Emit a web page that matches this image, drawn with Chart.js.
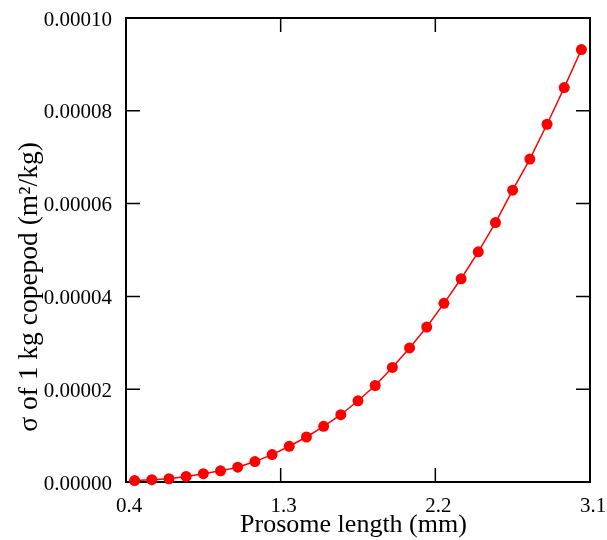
<!DOCTYPE html>
<html>
<head>
<meta charset="utf-8">
<script src="https://cdn.jsdelivr.net/npm/chart.js@4.4.1/dist/chart.umd.min.js"></script>
<style>
  html, body { margin: 0; padding: 0; background: #ffffff; }
  #c { display: block; }
</style>
</head>
<body>
<canvas id="c" width="607" height="540"></canvas>
<script>
// ---- data ----
const prosomeLength = [0.45, 0.55, 0.65, 0.75, 0.85, 0.95, 1.05, 1.15, 1.25, 1.35,
                       1.45, 1.55, 1.65, 1.75, 1.85, 1.95, 2.05, 2.15, 2.25, 2.35,
                       2.45, 2.55, 2.65, 2.75, 2.85, 2.95, 3.05];
const sigmaValues = [0.30e-6, 0.50e-6, 0.70e-6, 1.2e-6, 1.8e-6, 2.4e-6, 3.2e-6, 4.4e-6, 5.9e-6, 7.7e-6,
                     9.7e-6, 12.0e-6, 14.5e-6, 17.5e-6, 20.8e-6, 24.7e-6, 28.9e-6, 33.4e-6, 38.5e-6, 43.8e-6,
                     49.6e-6, 55.9e-6, 62.9e-6, 69.6e-6, 77.1e-6, 85.0e-6, 93.2e-6];
const xTickValues = [0.4, 1.3, 2.2, 3.1];
const yTickValues = [0, 0.00002, 0.00004, 0.00006, 0.00008, 0.0001];
const xTitle = 'Prosome length (mm)';
const yTitle = 'σ of 1 kg copepod (m²/kg)';

const FONT = '"Liberation Serif", "Times New Roman", serif';

const framePlugin = {
  id: 'frame',
  beforeDatasetsDraw(chart) {
    const ctx = chart.ctx;
    const a = chart.chartArea;
    const xs = chart.scales.x, ys = chart.scales.y;
    const tl = 14;
    ctx.save();
    ctx.strokeStyle = '#000';
    ctx.lineWidth = 1.5;
    ctx.beginPath();
    xTickValues.forEach(v => {
      const px = xs.getPixelForValue(v);
      ctx.moveTo(px, a.bottom); ctx.lineTo(px, a.bottom - tl);
      ctx.moveTo(px, a.top); ctx.lineTo(px, a.top + tl);
    });
    yTickValues.forEach(v => {
      const py = ys.getPixelForValue(v);
      ctx.moveTo(a.left, py); ctx.lineTo(a.left + tl, py);
      ctx.moveTo(a.right, py); ctx.lineTo(a.right - tl, py);
    });
    ctx.stroke();
    ctx.lineWidth = 2;
    ctx.strokeRect(a.left, a.top, a.right - a.left, a.bottom - a.top);
    ctx.restore();
  },
  afterDraw(chart) {
    const ctx = chart.ctx;
    const a = chart.chartArea;
    ctx.save();
    ctx.fillStyle = '#000';
    ctx.textAlign = 'center';
    ctx.textBaseline = 'alphabetic';
    // x title
    ctx.font = '26px ' + FONT;
    ctx.fillText(xTitle, (a.left + a.right) / 2 - 4.5, 532);
    // y title
    ctx.font = '27.5px ' + FONT;
    ctx.translate(36.5, (a.top + a.bottom) / 2 + 37);
    ctx.rotate(-Math.PI / 2);
    ctx.fillText(yTitle, 0, 0);
    ctx.restore();
  }
};

new Chart(document.getElementById('c'), {
  type: 'line',
  data: {
    datasets: [{
      data: prosomeLength.map((x, i) => ({ x: x, y: sigmaValues[i] })),
      borderColor: '#ff0000',
      backgroundColor: '#ff0000',
      borderWidth: 1.5,
      pointRadius: 5.5,
      pointBorderWidth: 0,
      pointBackgroundColor: '#ff0000',
      tension: 0,
      clip: false
    }]
  },
  options: {
    responsive: false,
    animation: false,
    devicePixelRatio: 1,
    layout: { padding: { top: 18, right: 17, left: 0, bottom: 0 } },
    plugins: { legend: { display: false }, tooltip: { enabled: false } },
    scales: {
      x: {
        type: 'linear',
        min: 0.4, max: 3.1,
        afterBuildTicks(scale) { scale.ticks = xTickValues.map(v => ({ value: v })); },
        afterFit(scale) { scale.height = 58; scale.paddingLeft = 0; scale.paddingRight = 0; },
        grid: { display: false, drawTicks: false },
        border: { display: false },
        ticks: {
          color: '#000',
          font: { family: FONT, size: 21 },
          padding: 12,
          labelOffset: 3,
          maxRotation: 0,
          callback: v => v.toFixed(1)
        },
        title: { display: false }
      },
      y: {
        type: 'linear',
        min: 0, max: 0.0001,
        afterBuildTicks(scale) { scale.ticks = yTickValues.map(v => ({ value: v })); },
        afterFit(scale) { scale.width = 126; scale.paddingTop = 0; scale.paddingBottom = 0; },
        grid: { display: false, drawTicks: false },
        border: { display: false },
        ticks: {
          color: '#000',
          font: { family: FONT, size: 21 },
          padding: 14,
          labelOffset: 2,
          callback: v => v.toFixed(5)
        },
        title: { display: false }
      }
    }
  },
  plugins: [framePlugin]
});
</script>
</body>
</html>
